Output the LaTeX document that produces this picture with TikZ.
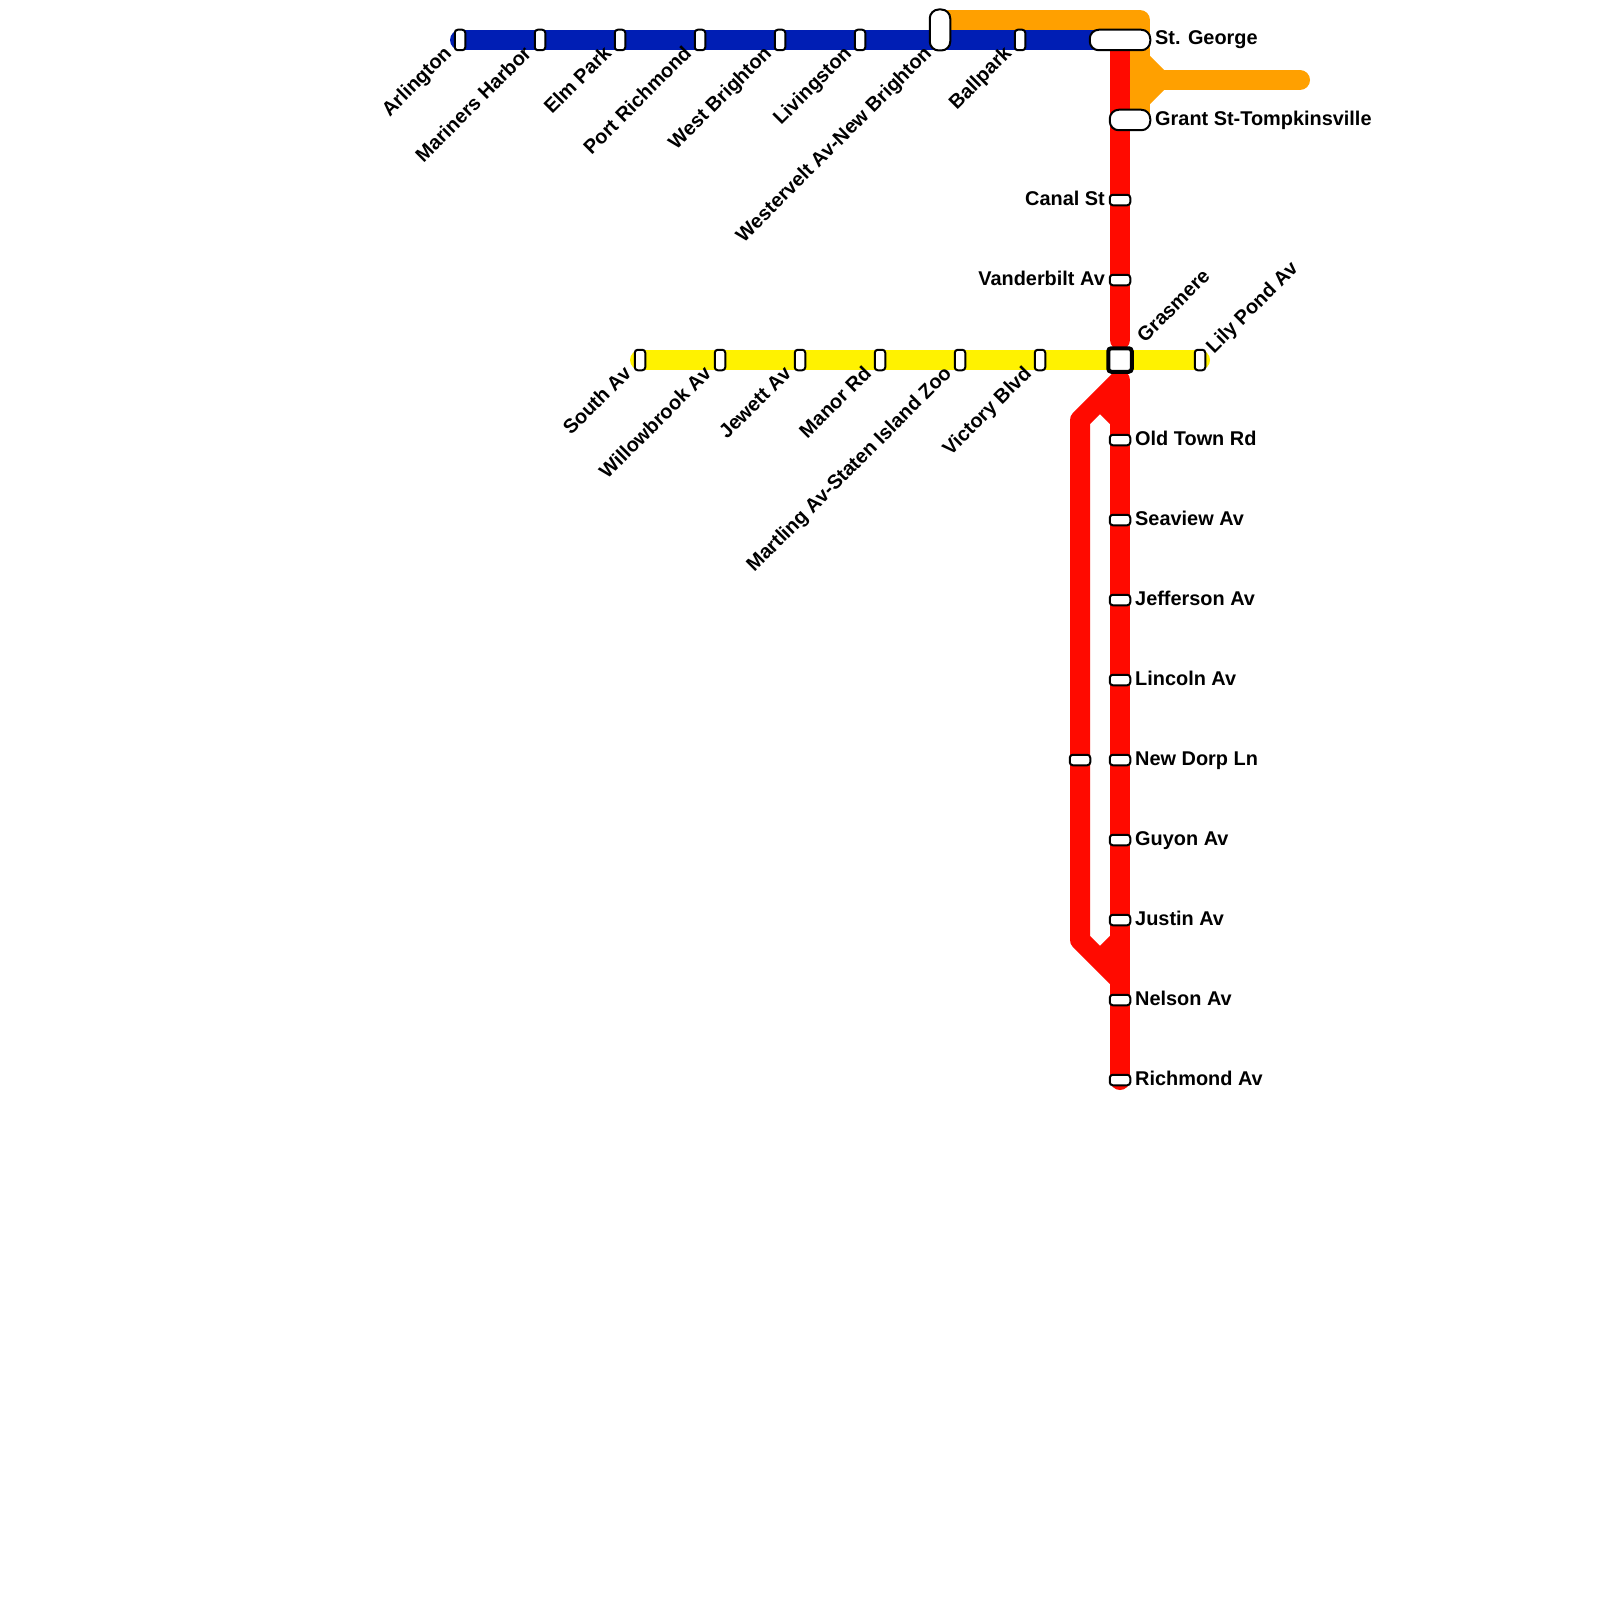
\documentclass[tikz,border=0pt]{standalone}
\usepackage{fontspec}
\setmainfont{Liberation Sans}[BoldFont={Liberation Sans Bold}]
\definecolor{lblue}{RGB}{0,30,180}
\definecolor{lred}{RGB}{255,10,0}
\definecolor{lyellow}{RGB}{255,242,0}
\definecolor{lorange}{RGB}{255,160,0}
\tikzset{
  x=1pt,y=-1pt,
  route/.style={line width=20pt,line join=round,line cap=round},
  flat/.style={line width=20pt,line cap=butt},
  box/.style={draw=black,fill=white,line width=2pt,inner sep=0pt,rounded corners=3pt},
  vstn/.style={box,minimum width=10.5pt,minimum height=20.5pt},
  hstn/.style={box,minimum width=20.5pt,minimum height=10.5pt},
  bigstn/.style={box,rounded corners=9pt},
  lab/.style={font=\fontsize{19.9}{22}\selectfont\bfseries,text=black,inner sep=0pt},
  labR/.style={lab,anchor=base west},
  labL/.style={lab,anchor=base east},
  labDL/.style={lab,anchor=base east,rotate=45},
  labUR/.style={lab,anchor=base west,rotate=45},
}
\begin{document}
\begin{tikzpicture}
\useasboundingbox (0,0) rectangle (1600,1600);
% anchors
\coordinate (oA) at (940,20);
\coordinate (oB) at (1140,20);
\coordinate (oC) at (1140,120);
\coordinate (oD) at (1140,60);
\coordinate (oE) at (1160,80);
\coordinate (oF) at (1140,100);
\coordinate (oG) at (1300,80);
\coordinate (bA) at (460,40);
\coordinate (bB) at (1120,40);
\coordinate (yA) at (640,360);
\coordinate (yB) at (1200,360);
\coordinate (rA) at (1120,40);
\coordinate (rB) at (1120,340);
\coordinate (rC) at (1120,380);
\coordinate (rD) at (1120,1080);
\coordinate (fA) at (1080,420);
\coordinate (fB) at (1080,940);
\coordinate (fC) at (1120,980);
\coordinate (gA) at (1100,400);
\coordinate (gB) at (1120,420);
\coordinate (gC) at (1120,940);
\coordinate (gD) at (1100,960);
% lines
\draw[route,lorange] (oA) -- (oB) -- (oC);
\draw[flat,lorange] (oD) -- (oE);
\draw[flat,lorange] (oF) -- (oE);
\draw[route,lorange] (oE) -- (oG);
\draw[route,lblue] (bA) -- (bB);
\draw[route,lyellow] (yA) -- (yB);
\draw[route,lred] (rA) -- (rB);
\draw[route,lred] (rC) -- (rD);
\draw[flat,line join=round,lred] (rC) -- (fA) -- (fB) -- (fC);
\draw[flat,lred] (gA) -- (gB);
\draw[flat,lred] (gC) -- (gD);
% blue stations
\foreach \n/\x/\t in {a/460/Arlington,b/540/Mariners Harbor,c/620/Elm Park,d/700/Port Richmond,e/780/West Brighton,f/860/Livingston,h/1020/Ballpark}{
  \node[vstn] (s\n) at (\x,40) {};
  \node[labDL] (t\n) at (\x-7.5,54.5) {\t};
}
\node[bigstn,minimum width=20.5pt,minimum height=41pt] (sg) at (940,30) {};
\node[labDL] (tg) at (932.5,54.5) {Westervelt Av-New Brighton};
\node[bigstn,minimum width=60.5pt,minimum height=20.5pt] (sj) at (1120,40) {};
\node[labR] (tj) at (1155,45) {St. George};
\node[bigstn,minimum width=40.5pt,minimum height=20.5pt] (sk) at (1130,120) {};
\node[labR] (tk) at (1155,125) {Grant St-Tompkinsville};
% yellow stations
\foreach \n/\x/\t in {m/640/South Av,n/720/Willowbrook Av,o/800/Jewett Av,p/880/Manor Rd,q/960/Martling Av-Staten Island Zoo,r/1040/Victory Blvd}{
  \node[vstn] (s\n) at (\x,360) {};
  \node[labDL] (t\n) at (\x-7.5,374.5) {\t};
}
\node[vstn] (sz) at (1200,360) {};
\node[labUR] (tz) at (1214,354.5) {Lily Pond Av};
\node[box,line width=4pt,rounded corners=3pt,minimum width=23.5pt,minimum height=23.5pt] (sy) at (1120,360) {};
\node[labUR] (ty) at (1145,343.5) {Grasmere};
% red stations
\foreach \n/\y/\t in {u/200/Canal St,v/280/Vanderbilt Av}{
  \node[hstn] (s\n) at (1120,\y) {};
  \node[labL] (t\n) at (1105,\y+5) {\t};
}
\foreach \n/\y/\t in {aa/440/Old Town Rd,ab/520/Seaview Av,ac/600/Jefferson Av,ad/680/Lincoln Av,ae/760/New Dorp Ln,af/840/Guyon Av,ag/920/Justin Av,ah/1000/Nelson Av,ai/1080/Richmond Av}{
  \node[hstn] (s\n) at (1120,\y) {};
  \node[labR] (t\n) at (1135,\y+5) {\t};
}
\node[hstn] (sx) at (1080,760) {};
\end{tikzpicture}
\end{document}
